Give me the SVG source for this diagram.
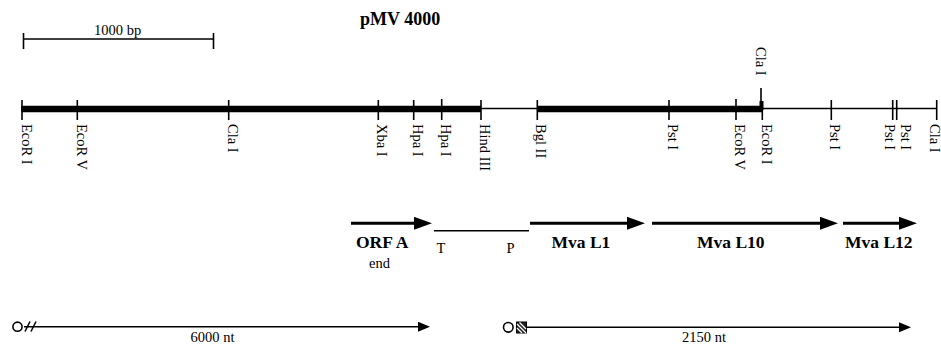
<svg xmlns="http://www.w3.org/2000/svg" width="941" height="346" viewBox="0 0 941 346">
<style>
text{font-family:"Liberation Serif","Times New Roman",serif;fill:#000}
.lbl{font-size:14.5px}
.bold{font-weight:bold}
.tick{stroke:#000;stroke-width:1.6;fill:none}
.thick{stroke:#000;stroke-width:6.5}
.thin{stroke:#000;stroke-width:1.5}
.garrow{stroke:#000;stroke-width:3;marker-end:url(#bighead)}
.tarrow{stroke:#000;stroke-width:1.5;marker-end:url(#smallhead)}
</style>
<defs>
<marker id="bighead" markerUnits="userSpaceOnUse" markerWidth="18" markerHeight="13" refX="0" refY="6.5" orient="auto">
<path d="M0,0 L18,6.5 L0,13 z" fill="#000"/>
</marker>
<marker id="smallhead" markerUnits="userSpaceOnUse" markerWidth="12" markerHeight="10" refX="0" refY="5" orient="auto">
<path d="M0,0 L12,5 L0,10 z" fill="#000"/>
</marker>
</defs>
<rect width="941" height="346" fill="#fff"/>

<g id="title"><text x="360" y="25" class="bold" font-size="18">pMV 4000</text></g>

<g id="scalebar">
<line x1="23.5" y1="39" x2="213.5" y2="39" class="thin"/>
<line x1="23.5" y1="33" x2="23.5" y2="49" class="tick"/>
<line x1="213.5" y1="33" x2="213.5" y2="49" class="tick"/>
<text x="94" y="35" class="lbl">1000 bp</text>
</g>

<g id="map">
<line x1="21" y1="109" x2="481" y2="109" class="thick"/>
<line x1="481" y1="108.5" x2="537" y2="108.5" class="thin"/>
<line x1="537" y1="109" x2="763" y2="109" class="thick"/>
<line x1="763" y1="108.5" x2="937" y2="108.5" class="thin"/>
</g>

<g id="sites">
<g id="site-ecori-1"><line x1="22" y1="100" x2="22" y2="120" class="tick"/><text class="lbl" transform="translate(22,124) rotate(90)">EcoR I</text></g>
<g id="site-ecorv-1"><line x1="77.3" y1="100" x2="77.3" y2="120" class="tick"/><text class="lbl" transform="translate(76.5,124) rotate(90)">EcoR V</text></g>
<g id="site-clai-1"><line x1="228.7" y1="100" x2="228.7" y2="120" class="tick"/><text class="lbl" transform="translate(227.5,124) rotate(90)">Cla I</text></g>
<g id="site-xbai"><line x1="378.3" y1="100" x2="378.3" y2="120" class="tick"/><text class="lbl" transform="translate(377,124) rotate(90)">Xba I</text></g>
<g id="site-hpai-1"><line x1="413.7" y1="100" x2="413.7" y2="120" class="tick"/><text class="lbl" transform="translate(412.5,124) rotate(90)">Hpa I</text></g>
<g id="site-hpai-2"><line x1="441.7" y1="99" x2="441.7" y2="120" class="tick"/><text class="lbl" transform="translate(440.5,124) rotate(90)">Hpa I</text></g>
<g id="site-hindiii"><line x1="481" y1="100" x2="481" y2="120" class="tick"/><text class="lbl" transform="translate(480,124) rotate(90)">Hind III</text></g>
<g id="site-bglii"><line x1="537.3" y1="100" x2="537.3" y2="120" class="tick"/><text class="lbl" transform="translate(536,124) rotate(90)">Bgl II</text></g>
<g id="site-psti-1"><line x1="669" y1="100" x2="669" y2="120" class="tick"/><text class="lbl" transform="translate(667.5,124) rotate(90)">Pst I</text></g>
<g id="site-ecorv-2"><line x1="736" y1="99" x2="736" y2="120" class="tick"/><text class="lbl" transform="translate(735,124) rotate(90)">EcoR V</text></g>
<g id="site-ecori-2"><line x1="762.3" y1="108" x2="762.3" y2="120" class="tick"/><text class="lbl" transform="translate(761.5,124) rotate(90)">EcoR I</text></g>
<g id="site-clai-2"><line x1="761" y1="88" x2="761" y2="109" class="tick"/><rect x="759.5" y="101" width="4" height="9" fill="#000"/><text class="lbl" transform="translate(755.5,47) rotate(90)">Cla I</text></g>
<g id="site-psti-2"><line x1="831.3" y1="100" x2="831.3" y2="120" class="tick"/><text class="lbl" transform="translate(829.5,124) rotate(90)">Pst I</text></g>
<g id="site-psti-3"><line x1="892.7" y1="100" x2="892.7" y2="120" class="tick"/><text class="lbl" transform="translate(885,124) rotate(90)">Pst I</text></g>
<g id="site-psti-4"><line x1="896.7" y1="100" x2="896.7" y2="120" class="tick"/><text class="lbl" transform="translate(900.5,124) rotate(90)">Pst I</text></g>
<g id="site-clai-3"><line x1="936.7" y1="100" x2="936.7" y2="120" class="tick"/><text class="lbl" transform="translate(929.5,124) rotate(90)">Cla I</text></g>
</g>

<g id="genes">
<g id="orfa"><line x1="351" y1="223.3" x2="414" y2="223.3" class="garrow"/><text x="356" y="248" class="bold" font-size="17.5">ORF A</text><text x="369" y="268" class="lbl">end</text></g>
<g id="tp"><line x1="434" y1="230.7" x2="529" y2="230.7" class="thin"/><text x="436.5" y="253" class="lbl">T</text><text x="506.5" y="253" class="lbl">P</text></g>
<g id="mval1"><line x1="530" y1="223.3" x2="627" y2="223.3" class="garrow"/><text x="551.5" y="248" class="bold" font-size="17.5">Mva L1</text></g>
<g id="mval10"><line x1="652" y1="223.3" x2="820" y2="223.3" class="garrow"/><text x="697" y="248" class="bold" font-size="17.5">Mva L10</text></g>
<g id="mval12"><line x1="843" y1="223.3" x2="899" y2="223.3" class="garrow"/><text x="845" y="248" class="bold" font-size="17.5">Mva L12</text></g>
</g>

<g id="transcripts">
<g id="t6000">
<circle cx="17.5" cy="326.7" r="4.6" fill="#fff" stroke="#000" stroke-width="1.6"/>
<line x1="25" y1="331.5" x2="30" y2="321.5" stroke="#000" stroke-width="1.6"/>
<line x1="31" y1="331.5" x2="36" y2="321.5" stroke="#000" stroke-width="1.6"/>
<line x1="24" y1="326.7" x2="418" y2="326.7" class="tarrow"/>
<text x="190.5" y="341.5" class="lbl">6000 nt</text>
</g>
<g id="t2150">
<circle cx="508.3" cy="327.3" r="4.8" fill="#fff" stroke="#000" stroke-width="1.6"/>
<rect x="516.5" y="322" width="10" height="11" fill="#222" stroke="#000" stroke-width="1"/>
<line x1="517" y1="324" x2="526" y2="333" stroke="#fff" stroke-width="1.3"/>
<line x1="519.5" y1="322.5" x2="526" y2="329" stroke="#fff" stroke-width="1.3"/>
<line x1="517" y1="328" x2="522" y2="333" stroke="#fff" stroke-width="1.3"/>
<line x1="526.5" y1="327.3" x2="899" y2="327.3" class="tarrow"/>
<text x="682" y="341.5" class="lbl">2150 nt</text>
</g>
</g>
</svg>
